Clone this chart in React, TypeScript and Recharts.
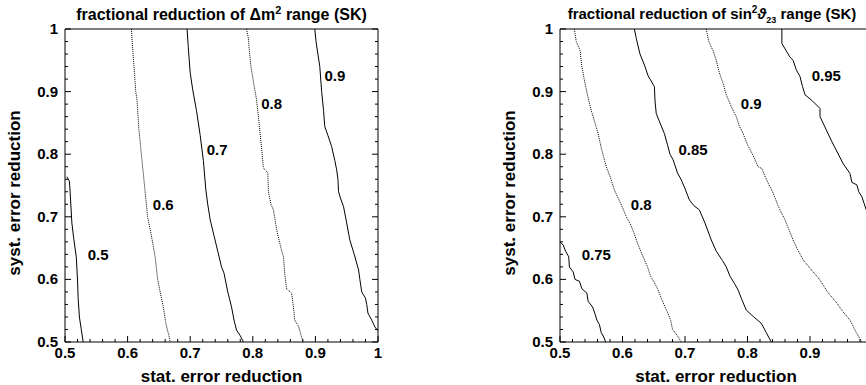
import { LineChart, Line, XAxis, YAxis, ReferenceDot } from 'recharts'

const FONT = '"Liberation Sans", Arial, sans-serif'

const majorTicks = [0.5, 0.6, 0.7, 0.8, 0.9, 1]
const rightLabelTicks = [0.5, 0.6, 0.7, 0.8, 0.9]
const minorTicks = [0.52, 0.54, 0.56, 0.58, 0.62, 0.64, 0.66, 0.68, 0.72, 0.74, 0.76, 0.78, 0.82, 0.84, 0.86, 0.88, 0.92, 0.94, 0.96, 0.98]
const allTicks = [...majorTicks, ...minorTicks].sort((a, b) => a - b)

type Pt = { x: number; y: number }
const pts = (a: number[][]): Pt[] => a.map(([x, y]) => ({ x, y }))

// left panel: delta m^2 contours
const dm05 = pts([[0.503, 0.764], [0.507, 0.757], [0.508, 0.743], [0.511, 0.69], [0.514, 0.665], [0.518, 0.636], [0.52, 0.599], [0.521, 0.57], [0.523, 0.54], [0.526, 0.52], [0.529, 0.5]])
const dm06 = pts([[0.606, 1], [0.608, 0.97], [0.611, 0.93], [0.613, 0.9], [0.615, 0.887], [0.618, 0.84], [0.622, 0.8], [0.626, 0.76], [0.629, 0.73], [0.632, 0.7], [0.638, 0.67], [0.644, 0.636], [0.648, 0.6], [0.652, 0.58], [0.657, 0.556], [0.661, 0.53], [0.666, 0.51], [0.668, 0.5]])
const dm07 = pts([[0.695, 1], [0.697, 0.97], [0.7, 0.93], [0.704, 0.903], [0.71, 0.87], [0.716, 0.83], [0.721, 0.79], [0.725, 0.743], [0.728, 0.72], [0.732, 0.695], [0.738, 0.67], [0.744, 0.645], [0.75, 0.62], [0.754, 0.61], [0.76, 0.58], [0.766, 0.556], [0.77, 0.535], [0.774, 0.519], [0.78, 0.51], [0.785, 0.5]])
const dm08 = pts([[0.79, 1], [0.793, 0.985], [0.794, 0.97], [0.797, 0.94], [0.802, 0.91], [0.806, 0.887], [0.81, 0.85], [0.814, 0.81], [0.817, 0.778], [0.824, 0.77], [0.825, 0.74], [0.829, 0.72], [0.833, 0.711], [0.838, 0.68], [0.845, 0.65], [0.849, 0.636], [0.851, 0.61], [0.854, 0.585], [0.862, 0.578], [0.865, 0.555], [0.867, 0.535], [0.873, 0.525], [0.876, 0.515], [0.88, 0.5]])
const dm09 = pts([[0.899, 1], [0.901, 0.98], [0.904, 0.96], [0.907, 0.94], [0.91, 0.9], [0.913, 0.87], [0.915, 0.844], [0.92, 0.83], [0.926, 0.812], [0.931, 0.79], [0.934, 0.775], [0.936, 0.76], [0.937, 0.74], [0.94, 0.73], [0.945, 0.716], [0.95, 0.69], [0.955, 0.663], [0.962, 0.64], [0.969, 0.615], [0.971, 0.6], [0.974, 0.58], [0.98, 0.57], [0.982, 0.56], [0.984, 0.546], [0.99, 0.535], [0.995, 0.524], [1, 0.518]])
const dmLabels = [
  { x: 0.553, y: 0.639, text: '0.5' },
  { x: 0.657, y: 0.72, text: '0.6' },
  { x: 0.743, y: 0.807, text: '0.7' },
  { x: 0.83, y: 0.88, text: '0.8' },
  { x: 0.931, y: 0.926, text: '0.9' },
]

// right panel: sin^2 theta23 contours
const th075 = pts([[0.5, 0.66], [0.505, 0.655], [0.509, 0.645], [0.514, 0.636], [0.515, 0.62], [0.521, 0.612], [0.524, 0.6], [0.531, 0.597], [0.535, 0.585], [0.543, 0.578], [0.545, 0.565], [0.552, 0.556], [0.556, 0.545], [0.559, 0.535], [0.563, 0.528], [0.566, 0.515], [0.57, 0.508], [0.573, 0.5]])
const th080 = pts([[0.523, 1], [0.526, 0.98], [0.532, 0.966], [0.535, 0.94], [0.54, 0.913], [0.545, 0.89], [0.55, 0.87], [0.556, 0.85], [0.561, 0.833], [0.566, 0.81], [0.57, 0.795], [0.574, 0.78], [0.58, 0.765], [0.587, 0.743], [0.593, 0.73], [0.6, 0.715], [0.606, 0.7], [0.612, 0.69], [0.618, 0.675], [0.625, 0.655], [0.633, 0.636], [0.64, 0.62], [0.645, 0.605], [0.651, 0.595], [0.657, 0.583], [0.662, 0.57], [0.668, 0.556], [0.673, 0.545], [0.677, 0.535], [0.68, 0.52], [0.688, 0.51], [0.694, 0.5]])
const th085 = pts([[0.619, 1], [0.622, 0.985], [0.628, 0.96], [0.636, 0.94], [0.641, 0.925], [0.651, 0.908], [0.652, 0.885], [0.654, 0.865], [0.66, 0.85], [0.667, 0.833], [0.672, 0.815], [0.676, 0.8], [0.681, 0.791], [0.688, 0.77], [0.694, 0.759], [0.7, 0.745], [0.707, 0.727], [0.714, 0.718], [0.723, 0.711], [0.732, 0.69], [0.742, 0.663], [0.75, 0.645], [0.76, 0.63], [0.766, 0.62], [0.772, 0.605], [0.78, 0.592], [0.785, 0.583], [0.79, 0.57], [0.798, 0.551], [0.81, 0.54], [0.822, 0.53], [0.83, 0.515], [0.838, 0.5]])
const th090 = pts([[0.734, 1], [0.738, 0.98], [0.745, 0.965], [0.75, 0.95], [0.755, 0.93], [0.761, 0.913], [0.766, 0.895], [0.774, 0.876], [0.782, 0.86], [0.787, 0.845], [0.793, 0.833], [0.8, 0.815], [0.808, 0.8], [0.817, 0.78], [0.823, 0.777], [0.83, 0.76], [0.841, 0.738], [0.85, 0.715], [0.86, 0.695], [0.866, 0.68], [0.873, 0.663], [0.88, 0.648], [0.889, 0.631], [0.9, 0.618], [0.916, 0.599], [0.928, 0.58], [0.943, 0.562], [0.953, 0.548], [0.964, 0.535], [0.974, 0.515], [0.983, 0.5]])
const th095 = pts([[0.855, 1], [0.855, 0.977], [0.862, 0.965], [0.868, 0.955], [0.873, 0.95], [0.878, 0.935], [0.884, 0.924], [0.888, 0.908], [0.892, 0.895], [0.904, 0.885], [0.916, 0.873], [0.916, 0.86], [0.935, 0.82], [0.953, 0.785], [0.964, 0.769], [0.967, 0.755], [0.975, 0.751], [0.978, 0.74], [0.983, 0.732], [0.99, 0.711], [1, 0.69]])
const thLabels = [
  { x: 0.558, y: 0.639, text: '0.75' },
  { x: 0.63, y: 0.72, text: '0.8' },
  { x: 0.713, y: 0.807, text: '0.85' },
  { x: 0.806, y: 0.88, text: '0.9' },
  { x: 0.926, y: 0.926, text: '0.95' },
]

const textProps = { fontSize: 15, fontWeight: 700, fill: '#000', fontFamily: FONT }

type Side = 'bottom' | 'top' | 'left' | 'right'

// draws an inward tick mark (long on major values) plus optional label
const makeTick = (side: Side, labels: number[]) => (props: any) => {
  const { x, y, payload } = props
  const v = payload.value
  const len = majorTicks.includes(v) ? 6 : 3
  const lbl = labels.includes(v) ? String(v) : null
  if (side === 'bottom') {
    return (
      <g>
        <line x1={x} y1={y} x2={x} y2={y - len} stroke="#000" />
        {lbl && <text x={x} y={y + 16} textAnchor="middle" {...textProps}>{lbl}</text>}
      </g>
    )
  }
  if (side === 'top') return <line x1={x} y1={y} x2={x} y2={y + len} stroke="#000" />
  if (side === 'right') return <line x1={x} y1={y} x2={x - len} y2={y} stroke="#000" />
  return (
    <g>
      <line x1={x} y1={y} x2={x + len} y2={y} stroke="#000" />
      {lbl && <text x={x - 7} y={y + 5} textAnchor="end" {...textProps}>{lbl}</text>}
    </g>
  )
}

type Contour = { data: Pt[]; dotted?: boolean }

function Panel({ contours, labels, xLabels, width, left, right }: { contours: Contour[]; labels: { x: number; y: number; text: string }[]; xLabels: number[]; width: number; left: number; right: number }) {
  const dom: [number, number] = [0.5, 1]
  const common = { type: 'number' as const, domain: dom, ticks: allTicks, tickLine: false, tickSize: 0, tickMargin: 0, stroke: '#000', allowDataOverflow: true, interval: 0 as const }
  return (
    <LineChart width={width} height={385} margin={{ top: 28, right, bottom: 0, left }}>
      <XAxis xAxisId="x" dataKey="x" {...common} height={43} tick={makeTick('bottom', xLabels)} />
      <XAxis xAxisId="xt" orientation="top" {...common} height={1} tick={makeTick('top', [])} />
      <YAxis yAxisId="y" {...common} width={50} tick={makeTick('left', majorTicks)} />
      <YAxis yAxisId="yr" orientation="right" {...common} width={1} tick={makeTick('right', [])} />
      {contours.map((c, i) => (
        <Line key={i} xAxisId="x" yAxisId="y" data={c.data} dataKey="y" type="linear" stroke="#000" strokeWidth={1} strokeDasharray={c.dotted ? '1 1' : undefined} dot={false} activeDot={false} isAnimationActive={false} />
      ))}
      {labels.map((l, i) => (
        <ReferenceDot key={i} xAxisId="x" yAxisId="y" x={l.x} y={l.y} r={0} fill="none" stroke="none" label={{ value: l.text, position: 'center', ...textProps }} />
      ))}
    </LineChart>
  )
}

const titleStyle: React.CSSProperties = { position: 'absolute', top: 4, fontFamily: FONT, fontWeight: 700, fontSize: 16, whiteSpace: 'nowrap', transform: 'translateX(-50%)' }
const xTitleStyle: React.CSSProperties = { position: 'absolute', top: 367, fontFamily: FONT, fontWeight: 700, fontSize: 17, whiteSpace: 'nowrap', transform: 'translateX(-50%)' }
const yTitleStyle: React.CSSProperties = { position: 'absolute', top: 193, fontFamily: FONT, fontWeight: 700, fontSize: 17, whiteSpace: 'nowrap', transform: 'translate(-50%, -50%) rotate(-90deg)' }

export default function App() {
  return (
    <div style={{ position: 'absolute', left: 0, top: 0, width: 866, height: 385, overflow: 'hidden', background: '#fff' }}>
      <div style={{ position: 'absolute', left: 0, top: 0 }}>
        <Panel contours={[{ data: dm05 }, { data: dm06, dotted: true }, { data: dm07 }, { data: dm08, dotted: true }, { data: dm09 }]} labels={dmLabels} xLabels={majorTicks} width={433} left={15} right={54} />
      </div>
      <div style={{ position: 'absolute', left: 433, top: 0 }}>
        <Panel contours={[{ data: th075 }, { data: th080, dotted: true }, { data: th085 }, { data: th090, dotted: true }, { data: th095 }]} labels={thLabels} xLabels={rightLabelTicks} width={450} left={77} right={9.5} />
      </div>
      <div style={{ ...titleStyle, left: 221.5 }}>fractional reduction of Δm<sup style={{ fontSize: 11 }}>2</sup> range (SK)</div>
      <div style={{ ...titleStyle, left: 712, fontSize: 15 }}>
        fractional reduction of sin<sup style={{ fontSize: 10 }}>2</sup><i>ϑ</i><sub style={{ fontSize: 9 }}>23</sub> range (SK)
      </div>
      <div style={{ ...xTitleStyle, left: 221.5 }}>stat. error reduction</div>
      <div style={{ ...xTitleStyle, left: 716 }}>stat. error reduction</div>
      <div style={{ ...yTitleStyle, left: 15 }}>syst. error reduction</div>
      <div style={{ ...yTitleStyle, left: 510 }}>syst. error reduction</div>
    </div>
  )
}
